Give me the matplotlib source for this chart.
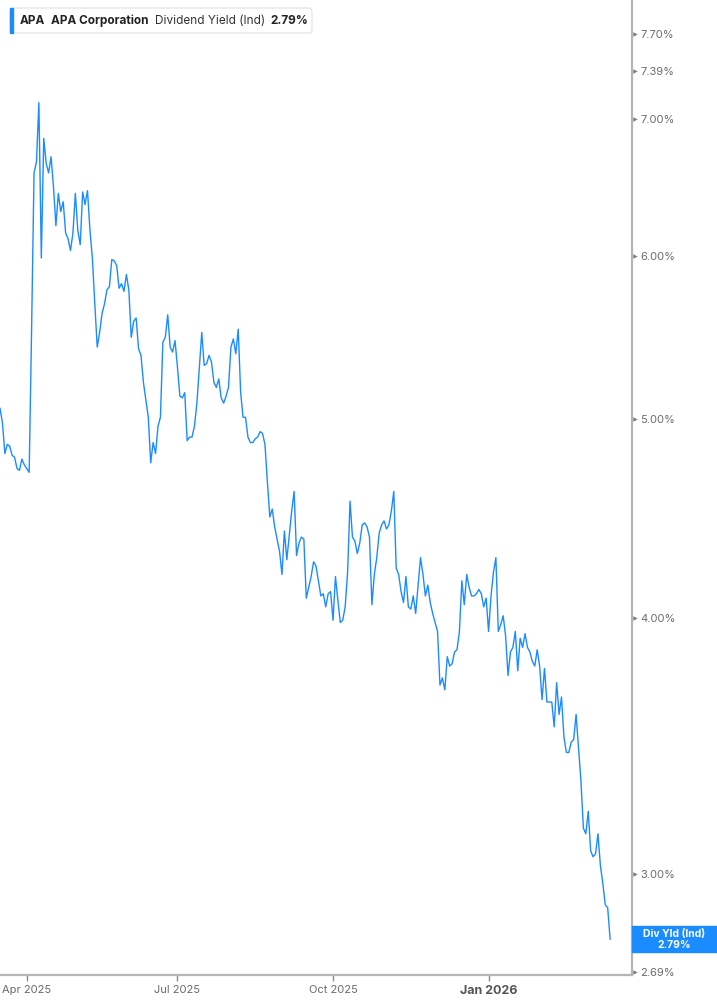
import matplotlib
matplotlib.use("Agg")
import matplotlib.pyplot as plt
from matplotlib.patches import FancyBboxPatch, Rectangle
import matplotlib.transforms as mtransforms
import numpy as np
import pandas as pd

# APA Corporation, indicated dividend yield (%), one value per trading session
start_date = "2025-03-17"
market_holidays = ["2025-04-18", "2025-05-26", "2025-06-19", "2025-07-04", "2025-09-01",
                   "2025-11-27", "2025-12-25", "2026-01-01", "2026-01-19", "2026-02-16"]

yields = [
    5.06, 4.98, 4.81, 4.86, 4.85, 4.80, 4.79, 4.73, 4.72, 4.78,
    4.75, 4.73, 4.71, 5.53, 6.59, 6.67, 7.13, 5.99, 6.85, 6.66,
    6.59, 6.71, 6.49, 6.21, 6.44, 6.31, 6.38, 6.16, 6.12, 6.04,
    6.16, 6.44, 6.18, 6.08, 6.45, 6.36, 6.46, 6.18, 5.99, 5.69,
    5.42, 5.51, 5.63, 5.69, 5.78, 5.80, 5.98, 5.97, 5.94, 5.79,
    5.82, 5.77, 5.88, 5.78, 5.48, 5.58, 5.60, 5.41, 5.37, 5.21,
    5.11, 5.01, 4.76, 4.87, 4.81, 4.96,
    # Jun - Sep 2025
    5.01, 5.45, 5.48, 5.62, 5.42, 5.39, 5.46, 5.30, 5.13, 5.12,
    5.15, 4.88, 4.90, 4.90, 4.96, 5.09, 5.30, 5.51, 5.31, 5.32,
    5.37, 5.33, 5.21, 5.18, 5.23, 5.12, 5.09, 5.13, 5.18, 5.42,
    5.47, 5.38, 5.53, 5.15, 5.01, 5.01, 4.90, 4.87, 4.87, 4.89,
    4.90, 4.93, 4.92, 4.86, 4.66, 4.48, 4.52, 4.43, 4.37, 4.31,
    4.20, 4.41, 4.27, 4.39, 4.51, 4.61, 4.29, 4.35, 4.38, 4.37,
    4.09, 4.14,
    # Sep 2025 - Feb 2026
    4.19, 4.26, 4.24, 4.17, 4.10, 4.11, 4.05, 4.11, 4.12, 3.99,
    4.19, 4.08, 3.98, 3.99, 4.05, 4.21, 4.56, 4.38, 4.36, 4.30,
    4.35, 4.44, 4.45, 4.43, 4.38, 4.06, 4.20, 4.28, 4.40, 4.44,
    4.46, 4.42, 4.44, 4.51, 4.61, 4.23, 4.20, 4.12, 4.07, 4.19,
    4.05, 4.04, 4.10, 4.02, 4.15, 4.28, 4.20, 4.10, 4.15, 4.07,
    4.02, 3.98, 3.94, 3.71, 3.74, 3.69, 3.83, 3.79, 3.80, 3.85,
    3.86, 3.94, 4.17, 4.06, 4.20, 4.14, 4.10, 4.10, 4.11, 4.13,
    4.11, 4.05, 4.09, 3.94, 4.10, 4.21, 4.28, 3.94, 3.97, 4.01,
    3.92, 3.75, 3.85, 3.87, 3.94, 3.77, 3.91, 3.87, 3.93, 3.87,
    3.85, 3.81, 3.79, 3.86, 3.79, 3.65, 3.78, 3.64, 3.64, 3.64,
    3.54, 3.72, 3.59, 3.66, 3.50, 3.44,
    # Feb - Mar 2026
    3.44, 3.48, 3.49, 3.59, 3.46, 3.33, 3.16, 3.14, 3.22, 3.08,
    3.06, 3.07, 3.14, 3.03, 2.97, 2.90, 2.89, 2.79,
]

ytick_vals = [2.69, 3.00, 4.00, 5.00, 6.00, 7.00, 7.39, 7.70]
xtick_months = ["2025-04", "2025-07", "2025-10", "2026-01"]
xtick_labels = ["Apr 2025", "Jul 2025", "Oct 2025", "Jan 2026"]

BLUE = "#1b8cff"
GREY_AXIS = "#b5b5b5"
GREY_TEXT = "#6b6b6b"

plt.rcParams["font.family"] = ["Inter", "DejaVu Sans"]

W, H = 717, 1005
fig = plt.figure(figsize=(W / 100, H / 100), dpi=100)
ax = fig.add_axes([0, 1 - 975 / H, 632 / W, 975 / H])

sessions = pd.bdate_range(start=start_date, periods=len(yields), freq="C",
                          holidays=market_holidays)
x = np.arange(len(yields))
ax.plot(x, yields, color=BLUE, lw=1.0)

ax.set_yscale("log")
ax.set_ylim(2.68, 8.0)
ax.set_xlim(0, 260)
ax.minorticks_off()

for s in ("top", "left"):
    ax.spines[s].set_visible(False)
for s in ("right", "bottom"):
    ax.spines[s].set_color(GREY_AXIS)
    ax.spines[s].set_linewidth(1.6)

# y axis on the right, little triangle markers as ticks
ax.yaxis.tick_right()
ax.set_yticks(ytick_vals)
ax.set_yticklabels([f"{v:.2f}%" for v in ytick_vals])
ax.tick_params(axis="y", length=0, pad=6, labelsize=8, labelcolor=GREY_TEXT)
trans = mtransforms.blended_transform_factory(ax.transAxes, ax.transData)
trans = trans + mtransforms.ScaledTranslation(3 / 100, 0, fig.dpi_scale_trans)
ax.plot([1.0] * len(ytick_vals), ytick_vals, ls="none", marker=">", ms=3.2,
        mew=0, color="#7a7a7a", transform=trans, clip_on=False)

# x ticks at the first session of each quarter
months = sessions.strftime("%Y-%m")
tick_pos = [int(np.argmax(months == m)) for m in xtick_months]
ax.set_xticks(tick_pos)
ax.set_xticklabels(xtick_labels)
ax.tick_params(axis="x", length=4, width=1, color="#8a8a8a", pad=3,
               labelsize=8, labelcolor=GREY_TEXT)
jan = ax.get_xticklabels()[-1]
jan.set_fontweight("bold")
jan.set_fontsize(9)
jan.set_color("#555555")


def fx(px):
    return px / W


def fy(py):
    return 1 - py / H


# legend box at top left
box = FancyBboxPatch((fx(10), fy(33)), fx(312) - fx(10), fy(8) - fy(33),
                     boxstyle="round,pad=0,rounding_size=0.004",
                     transform=fig.transFigure, facecolor="white",
                     edgecolor="#e2e2e2", lw=0.8)
fig.patches.append(box)
fig.patches.append(Rectangle((fx(10), fy(33)), fx(13) - fx(10), fy(8) - fy(33),
                             transform=fig.transFigure, color=BLUE))
ly = fy(20.5)
fig.text(fx(20), ly, "APA", fontsize=8.5, fontweight="bold", color="#222222", va="center")
fig.text(fx(51), ly, "APA Corporation", fontsize=8.5, fontweight="bold", color="#222222", va="center")
fig.text(fx(155), ly, "Dividend Yield (Ind)", fontsize=8.5, color="#333333", va="center")
fig.text(fx(270), ly, f"{yields[-1]:.2f}%", fontsize=8.5, fontweight="bold", color="#222222", va="center")

# last value tag on the right axis
fig.canvas.draw()
last_py = H - ax.transData.transform((x[-1], yields[-1]))[1]
fig.patches.append(Rectangle((fx(632), fy(last_py + 13)), fx(717) - fx(632), fy(0) - fy(26),
                             transform=fig.transFigure, color=BLUE))
fig.text(fx(674.5), fy(last_py - 5), "Div Yld (Ind)", fontsize=7.5, fontweight="bold",
         color="white", ha="center", va="center")
fig.text(fx(674.5), fy(last_py + 6), f"{yields[-1]:.2f}%", fontsize=7.5, fontweight="bold",
         color="white", ha="center", va="center")

fig.savefig("out.png", dpi=100)
